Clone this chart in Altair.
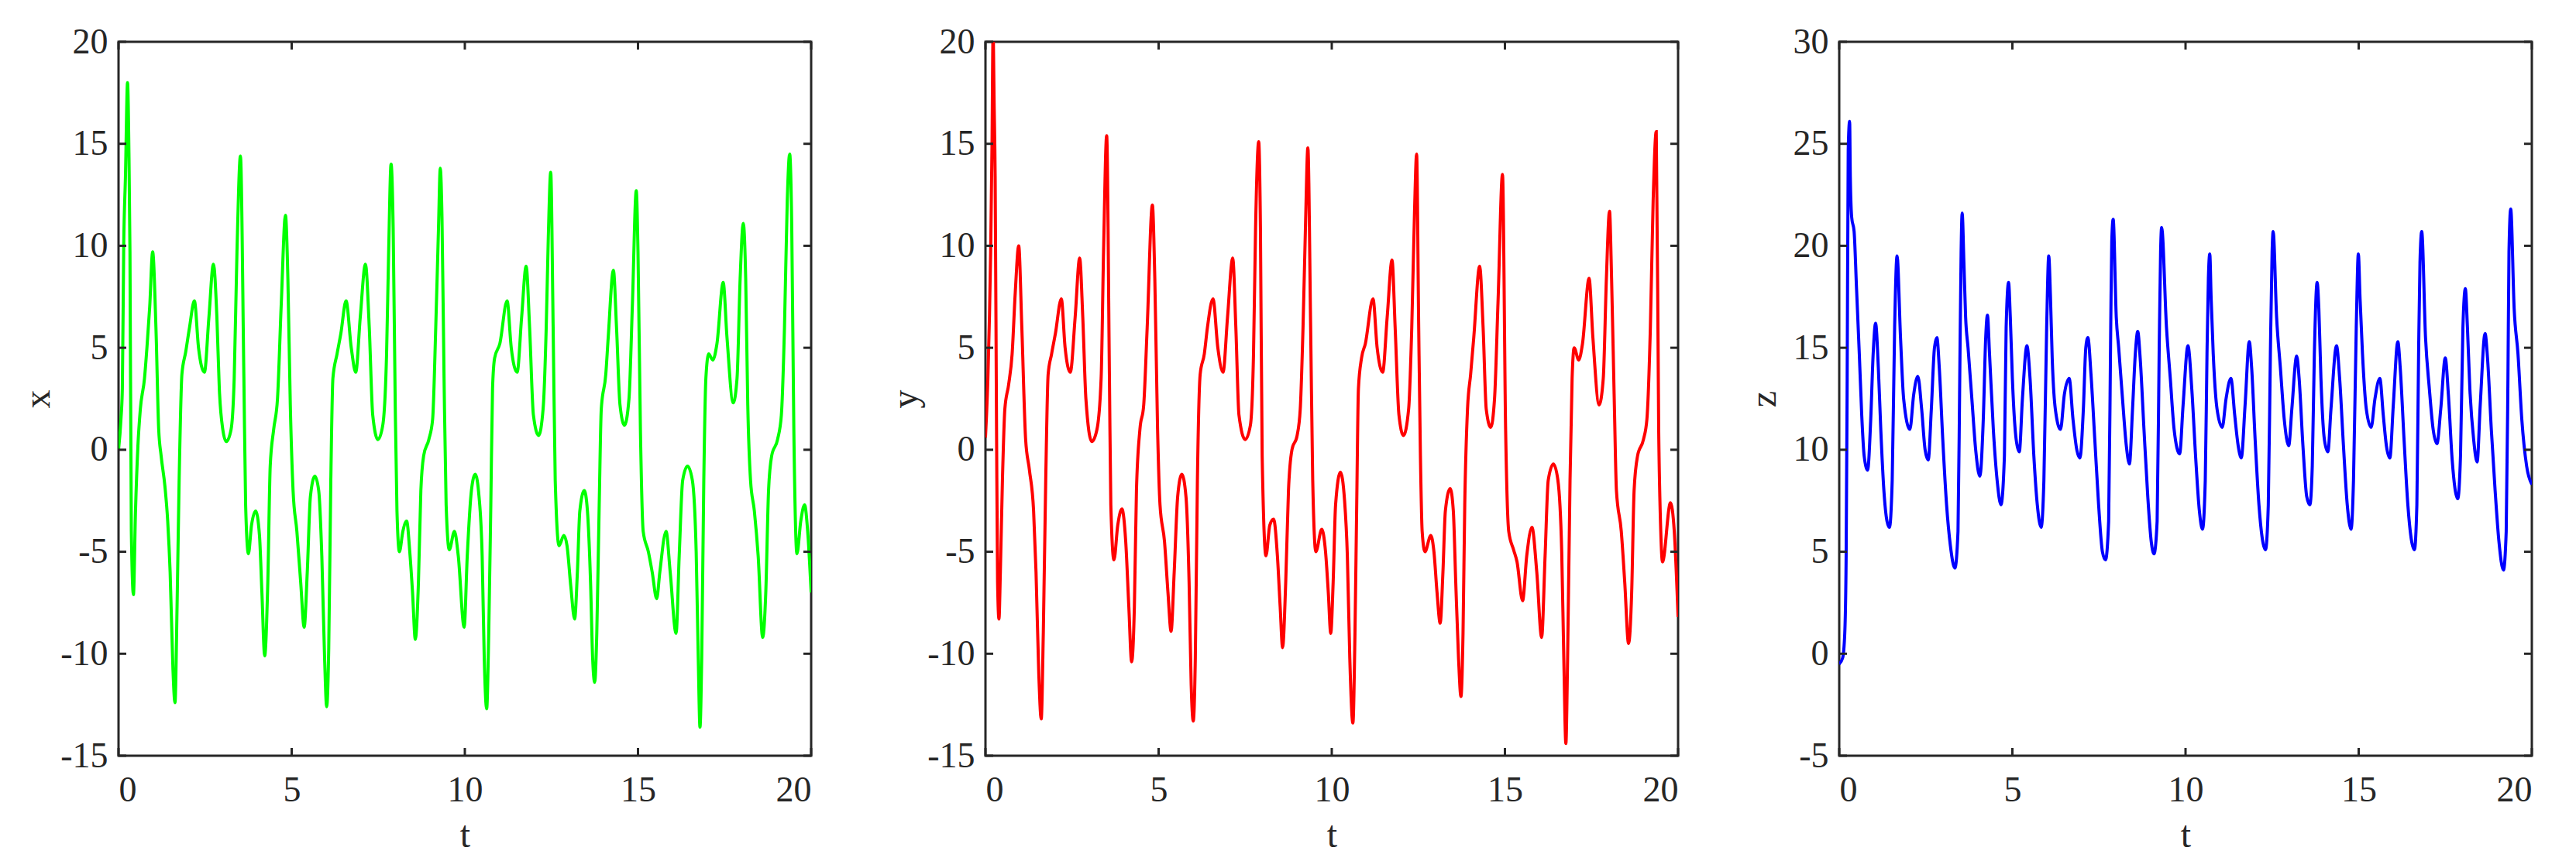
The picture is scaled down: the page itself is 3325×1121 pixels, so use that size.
import altair as alt
import pandas as pd

# ---------------- data ----------------
T_TICKS = [0, 5, 10, 15, 20]
XY_TICKS = [-15, -10, -5, 0, 5, 10, 15, 20]
Z_TICKS = [-5, 0, 5, 10, 15, 20, 25, 30]

X_SERIES = [
    (0, 0), (0.07, 1.5), (0.11, 3), (0.15, 10), (0.2, 13.4), (0.26, 18), (0.3, 14.6), (0.33, 9.7),
    (0.37, -4), (0.43, -7.1), (0.49, -3), (0.56, 0.2), (0.63, 2), (0.75, 3.5), (0.82, 5), (0.9, 7),
    (0.985, 9.7), (1.08, 6), (1.16, 1), (1.23, -0.3), (1.34, -1.8), (1.42, -3.5), (1.49, -6),
    (1.57, -10.7), (1.63, -12.4), (1.69, -7.7), (1.75, -1.5), (1.83, 3.7), (1.94, 4.8), (2.05, 6),
    (2.19, 7.3), (2.31, 5), (2.48, 3.8), (2.61, 6.5), (2.74, 9.1), (2.84, 6.5), (2.91, 3), (3.01, 1),
    (3.11, 0.4), (3.25, 1), (3.34, 3.5), (3.42, 9.7), (3.52, 14.4), (3.62, 3.5), (3.67, -2.7),
    (3.75, -5.1), (3.84, -3.7), (3.96, -3), (4.07, -4.2), (4.14, -7), (4.22, -10.1), (4.31, -6.5),
    (4.38, -0.8), (4.48, 1), (4.59, 2.5), (4.7, 7.2), (4.82, 11.5), (4.89, 8.4), (4.96, 2.2),
    (5.04, -2), (5.15, -4), (5.26, -6.5), (5.36, -8.7), (5.45, -6), (5.54, -2.3), (5.67, -1.3),
    (5.78, -2), (5.87, -5.2), (5.95, -10.2), (6.01, -12.6), (6.07, -9.7), (6.13, -1.5), (6.19, 3.5),
    (6.31, 4.7), (6.42, 5.7), (6.57, 7.3), (6.72, 5), (6.85, 3.8), (6.98, 6.5), (7.13, 9.1),
    (7.24, 6), (7.34, 1.7), (7.49, 0.5), (7.63, 1.2), (7.74, 4.7), (7.8, 9.7), (7.87, 14.0),
    (7.93, 10.9), (7.99, 2.2), (8.04, -3), (8.11, -5), (8.21, -4), (8.32, -3.5), (8.41, -5),
    (8.49, -7), (8.57, -9.3), (8.66, -6.5), (8.73, -2), (8.81, -0.3), (8.96, 0.5), (9.07, 1.5),
    (9.16, 6), (9.24, 10.9), (9.29, 13.8), (9.34, 11.4), (9.4, 3.5), (9.46, -2.7), (9.55, -4.9),
    (9.7, -4), (9.81, -5.2), (9.98, -8.7), (10.07, -5.2), (10.19, -2), (10.3, -1.2), (10.41, -2.3),
    (10.5, -5.2), (10.56, -10.2), (10.63, -12.7), (10.69, -9), (10.75, -2.7), (10.8, 3),
    (10.86, 4.5), (11.01, 5.2), (11.22, 7.3), (11.34, 5), (11.51, 3.8), (11.64, 6.5), (11.77, 9),
    (11.87, 6), (11.98, 1.7), (12.13, 0.7), (12.26, 2), (12.35, 6), (12.41, 10.4), (12.48, 13.6),
    (12.55, 6), (12.61, -1.5), (12.72, -4.7), (12.86, -4.2), (12.95, -4.7), (13.06, -6.7),
    (13.17, -8.3), (13.25, -6), (13.32, -3), (13.45, -2), (13.54, -3), (13.63, -6.5),
    (13.69, -10.2), (13.75, -11.4), (13.81, -9), (13.88, -2.7), (13.94, 2), (14.07, 3.7),
    (14.14, 5.5), (14.29, 8.8), (14.38, 6), (14.48, 2.2), (14.61, 1.2), (14.74, 2.5), (14.84, 7.2),
    (14.95, 12.7), (15.0, 9.7), (15.07, 1), (15.15, -4), (15.3, -5), (15.41, -6), (15.54, -7.3),
    (15.63, -6), (15.81, -4), (15.93, -6), (16.1, -9), (16.19, -5.2), (16.29, -1.5), (16.43, -0.8),
    (16.57, -1.5), (16.68, -5), (16.74, -10.2), (16.79, -13.6), (16.84, -10.2), (16.9, -1.5),
    (16.96, 3.5), (17.04, 4.7), (17.16, 4.4), (17.28, 5.2), (17.46, 8.2), (17.57, 5.5),
    (17.75, 2.3), (17.86, 3.5), (17.95, 8.4), (18.04, 11.1), (18.11, 8.4), (18.17, 2.2),
    (18.25, -1.5), (18.36, -3), (18.47, -5.2), (18.6, -9.2), (18.69, -7), (18.77, -2),
    (18.86, -0.3), (19.03, 0.5), (19.14, 1.7), (19.23, 6), (19.31, 12.2), (19.38, 14.5),
    (19.44, 10.9), (19.5, 1), (19.59, -5.1), (19.7, -3.5), (19.81, -2.7), (19.9, -4), (20.0, -7),
]

Y_SERIES = [
    (0, 0.6), (0.07, 3.5), (0.15, 9.7), (0.19, 15), (0.22, 20.5), (0.25, 17), (0.28, 13.4),
    (0.32, 1), (0.35, -6.5), (0.39, -8.3), (0.43, -6), (0.49, -1.5), (0.56, 2), (0.67, 3.2),
    (0.77, 4.7), (0.86, 7.7), (0.96, 10), (1.05, 6), (1.16, 0.5), (1.27, -1), (1.39, -3),
    (1.46, -6), (1.54, -11), (1.61, -13.2), (1.67, -9), (1.74, -1.5), (1.81, 3.7), (1.91, 4.7),
    (2.02, 5.7), (2.19, 7.4), (2.3, 5), (2.45, 3.8), (2.59, 6.5), (2.72, 9.4), (2.81, 6.5),
    (2.9, 2.5), (3.07, 0.4), (3.22, 1), (3.34, 3.5), (3.41, 9.7), (3.5, 15.4), (3.58, 3.5),
    (3.62, -2.7), (3.71, -5.4), (3.82, -3.7), (3.94, -2.9), (4.05, -4.5), (4.14, -7.7),
    (4.22, -10.4), (4.3, -7.7), (4.36, -2), (4.46, 1), (4.57, 2.2), (4.67, 6), (4.82, 12.0),
    (4.89, 8.4), (4.97, 1), (5.04, -2.7), (5.17, -4.5), (5.27, -7), (5.36, -8.9), (5.45, -6),
    (5.55, -2.3), (5.67, -1.2), (5.79, -2.3), (5.88, -6.5), (5.94, -11.5), (6.0, -13.3),
    (6.06, -10.2), (6.12, -1.5), (6.2, 3.7), (6.32, 4.7), (6.41, 6), (6.57, 7.4), (6.71, 5),
    (6.86, 3.8), (6.99, 6.5), (7.14, 9.4), (7.23, 6), (7.32, 1.7), (7.5, 0.5), (7.65, 1.2),
    (7.74, 4.7), (7.8, 10.9), (7.89, 15.1), (7.94, 10.9), (7.99, -0.3), (8.1, -5.2),
    (8.21, -3.7), (8.32, -3.4), (8.43, -5.2), (8.51, -7.7), (8.58, -9.7), (8.67, -6.5),
    (8.75, -2), (8.85, 0), (9.0, 0.7), (9.09, 2), (9.17, 6), (9.24, 10.9), (9.31, 14.8),
    (9.39, 6), (9.45, -1.5), (9.54, -5), (9.71, -3.9), (9.82, -5), (9.9, -7), (9.97, -9),
    (10.04, -6.5), (10.11, -2.7), (10.25, -1.1), (10.37, -2.5), (10.45, -5.2), (10.52, -10.2),
    (10.61, -13.4), (10.67, -9), (10.72, -2.7), (10.77, 3), (10.86, 4.5), (10.97, 5.2),
    (11.19, 7.4), (11.31, 5), (11.47, 3.8), (11.6, 6.5), (11.74, 9.3), (11.83, 6), (11.94, 1.7),
    (12.07, 0.7), (12.22, 2), (12.31, 6), (12.39, 11.7), (12.45, 14.5), (12.51, 6),
    (12.56, -0.3), (12.61, -4), (12.69, -5), (12.86, -4.2), (12.95, -5), (13.04, -7),
    (13.13, -8.5), (13.21, -6), (13.28, -3), (13.42, -1.9), (13.51, -3), (13.58, -6.5),
    (13.66, -10.2), (13.73, -12.1), (13.79, -9), (13.84, -2.7), (13.92, 2), (14.01, 3.7),
    (14.1, 5.5), (14.27, 9.0), (14.37, 6), (14.46, 2), (14.59, 1.1), (14.7, 2.5), (14.8, 7.2),
    (14.93, 13.5), (15.02, 1), (15.11, -4), (15.25, -4.9), (15.35, -5.5), (15.51, -7.4),
    (15.63, -5.2), (15.78, -3.8), (15.92, -6), (16.06, -9.2), (16.16, -5.2), (16.25, -1.5),
    (16.4, -0.7), (16.53, -1.5), (16.64, -5), (16.7, -10.2), (16.76, -14.4), (16.81, -10.2),
    (16.88, -1.5), (16.94, 3.5), (17.0, 5.0), (17.13, 4.4), (17.24, 5.2), (17.43, 8.4),
    (17.54, 5.5), (17.72, 2.2), (17.84, 3.5), (17.93, 8.4), (18.02, 11.7), (18.08, 8.4),
    (18.16, 2.2), (18.22, -2), (18.36, -4), (18.46, -6.5), (18.57, -9.5), (18.66, -7),
    (18.73, -2), (18.83, -0.3), (19.0, 0.5), (19.1, 1.5), (19.2, 6), (19.28, 12.2),
    (19.37, 15.6), (19.44, 1), (19.5, -4), (19.55, -5.5), (19.78, -2.6), (19.89, -4), (20.0, -8.2),
]

Z_SERIES = [
    (0, -0.5), (0.1, -0.2), (0.16, 1), (0.2, 4.8), (0.23, 13.5), (0.26, 24.7), (0.3, 26.1),
    (0.32, 23.4), (0.36, 21.4), (0.43, 20.7), (0.5, 17.9), (0.58, 14.7), (0.65, 11.7),
    (0.72, 9.7), (0.82, 9.0), (0.91, 11.5), (0.98, 14.7), (1.05, 16.2), (1.13, 14), (1.2, 11),
    (1.29, 8), (1.38, 6.5), (1.45, 6.2), (1.53, 8.5), (1.6, 16), (1.67, 19.5), (1.77, 15.5),
    (1.86, 12.5), (2.04, 11), (2.15, 12.7), (2.27, 13.6), (2.38, 12), (2.48, 10), (2.57, 9.5),
    (2.66, 12), (2.75, 15), (2.82, 15.5), (2.89, 14), (2.99, 10.5), (3.1, 7.3), (3.21, 5.3),
    (3.34, 4.2), (3.43, 6), (3.48, 13.5), (3.52, 19.7), (3.55, 21.6), (3.6, 19.2), (3.65, 16.5),
    (3.72, 15), (3.83, 12.5), (3.94, 10), (4.06, 8.7), (4.16, 11.5), (4.23, 15.5), (4.28, 16.6),
    (4.34, 14.7), (4.45, 11), (4.56, 8.5), (4.67, 7.3), (4.77, 9.7), (4.82, 16), (4.89, 18.2),
    (4.94, 16.5), (5.0, 13.5), (5.11, 10.5), (5.2, 9.9), (5.29, 12.5), (5.42, 15.1),
    (5.51, 13.5), (5.62, 9.7), (5.72, 7.3), (5.83, 6.2), (5.91, 8.5), (5.99, 16), (6.05, 19.5),
    (6.1, 17.5), (6.15, 14.5), (6.24, 12), (6.39, 11), (6.5, 12.7), (6.64, 13.5), (6.75, 11.5),
    (6.86, 10), (6.95, 9.6), (7.05, 12), (7.12, 15), (7.18, 15.5), (7.27, 13.7), (7.38, 10.5),
    (7.49, 7.3), (7.6, 5), (7.69, 4.6), (7.78, 6.5), (7.84, 16), (7.87, 20.2), (7.91, 21.3),
    (8.0, 16.5), (8.07, 15), (8.18, 12.5), (8.29, 10.2), (8.38, 9.3), (8.47, 12), (8.55, 14.7),
    (8.62, 15.8), (8.69, 14.5), (8.8, 11), (8.91, 7.7), (9.01, 5.5), (9.09, 4.9), (9.18, 6.5),
    (9.24, 15), (9.28, 19.7), (9.31, 20.9), (9.45, 16), (9.56, 13.5), (9.67, 11), (9.83, 9.8),
    (9.93, 12.2), (10.07, 15.1), (10.18, 13), (10.29, 9.7), (10.4, 7), (10.49, 6.1),
    (10.57, 8.5), (10.62, 14.7), (10.66, 18.4), (10.7, 19.6), (10.74, 17.4), (10.8, 14.7),
    (10.91, 12), (11.06, 11.1), (11.17, 12.5), (11.31, 13.5), (11.42, 11.7), (11.52, 10.2),
    (11.61, 9.6), (11.72, 12.2), (11.84, 15.3), (11.91, 14), (12.01, 10.5), (12.12, 7.3),
    (12.31, 5.1), (12.39, 7.3), (12.45, 14.7), (12.5, 19.7), (12.53, 20.7), (12.63, 16.5),
    (12.74, 14), (12.85, 11.5), (12.98, 10.2), (13.07, 12), (13.21, 14.6), (13.28, 13.5),
    (13.39, 10.2), (13.5, 7.7), (13.59, 7.3), (13.66, 9.2), (13.72, 14.7), (13.8, 18.2),
    (13.85, 16.9), (13.91, 13.5), (14.01, 10.5), (14.11, 9.9), (14.2, 12), (14.36, 15.1),
    (14.45, 13.5), (14.56, 10.2), (14.67, 7.3), (14.78, 6.1), (14.85, 8.5), (14.93, 16),
    (14.99, 19.6), (15.04, 17.4), (15.11, 14.7), (15.22, 12), (15.36, 11.1), (15.47, 12.5),
    (15.61, 13.5), (15.71, 11.7), (15.8, 10.2), (15.9, 9.6), (16.0, 12.2), (16.13, 15.3),
    (16.2, 14), (16.31, 10.5), (16.42, 7.3), (16.61, 5.1), (16.68, 7.3), (16.73, 14.7),
    (16.77, 19.2), (16.82, 20.7), (16.93, 15.5), (17.04, 13), (17.15, 11), (17.26, 10.3),
    (17.37, 12), (17.5, 14.5), (17.59, 12.7), (17.7, 9.5), (17.86, 7.6), (17.94, 9.7),
    (18.01, 16), (18.08, 17.9), (18.14, 16), (18.21, 13), (18.32, 10.5), (18.42, 9.4),
    (18.51, 12.2), (18.65, 15.7), (18.72, 14.5), (18.83, 11), (18.94, 8), (19.05, 5.5),
    (19.18, 4.1), (19.26, 6), (19.31, 13.5), (19.34, 19.7), (19.39, 21.8), (19.49, 16.9),
    (19.6, 14.7), (19.71, 11.5), (19.85, 9.2), (20.0, 8.3),
]

# ---------------- styling ----------------
FONT = "Liberation Serif"
INK = "#262626"
W, H = 894, 922
TICK_LEN = 10
LABEL = "'' + datum.value"   # plain hyphen-minus like the reference


def panel(series, color, ylabel, ydomain, yticks, title_x):
    df = pd.DataFrame(series, columns=["t", "v"])
    xenc = alt.X(
        "t:Q",
        title="t",
        scale=alt.Scale(domain=[0, 20], nice=False, zero=False),
        axis=alt.Axis(values=T_TICKS, labelExpr=LABEL, domain=False, ticks=False, tickSize=0,
                      grid=False, labelPadding=22, titlePadding=12),
    )
    yenc = alt.Y(
        "v:Q",
        title=ylabel,
        scale=alt.Scale(domain=ydomain, nice=False, zero=False),
        axis=alt.Axis(values=yticks, labelExpr=LABEL, domain=False, ticks=False, tickSize=0,
                      grid=False, labelPadding=14, titleX=title_x, titleY=H / 2,
                      titleBaseline="middle", titleAngle=270),
    )
    line = alt.Chart(df).mark_line(
        color=color, strokeWidth=4, clip=True, interpolate="monotone"
    ).encode(x=xenc, y=yenc)

    ydf = pd.DataFrame({"v": yticks})
    xdf = pd.DataFrame({"t": T_TICKS})
    rule = dict(color=INK, strokeWidth=3)
    left = alt.Chart(ydf).mark_rule(**rule).encode(y=yenc, x=alt.value(0), x2=alt.value(TICK_LEN))
    right = alt.Chart(ydf).mark_rule(**rule).encode(y=yenc, x=alt.value(W - TICK_LEN), x2=alt.value(W))
    bottom = alt.Chart(xdf).mark_rule(**rule).encode(x=xenc, y=alt.value(H - TICK_LEN), y2=alt.value(H))
    top = alt.Chart(xdf).mark_rule(**rule).encode(x=xenc, y=alt.value(0), y2=alt.value(TICK_LEN))
    return alt.layer(line, left, right, bottom, top).properties(width=W, height=H)


p1 = panel(X_SERIES, "#00FF00", "x", [-15, 20], XY_TICKS, -104)
p2 = panel(Y_SERIES, "#FF0000", "y", [-15, 20], XY_TICKS, -103)
p3 = panel(Z_SERIES, "#0000FF", "z", [-5, 30], Z_TICKS, -97)

chart = (
    alt.hconcat(alt.hconcat(p1, p2, spacing=93), p3, spacing=82)
    .properties(padding={"left": 15, "top": 21, "right": 5, "bottom": 5}, background="white")
    .configure_view(stroke=INK, strokeWidth=3)
    .configure_axis(
        labelFont=FONT, labelFontSize=46, labelColor=INK,
        titleFont=FONT, titleFontSize=48, titleFontWeight="normal", titleColor=INK,
    )
)

chart.save("out.html", embed_options={"renderer": "svg", "actions": False})
